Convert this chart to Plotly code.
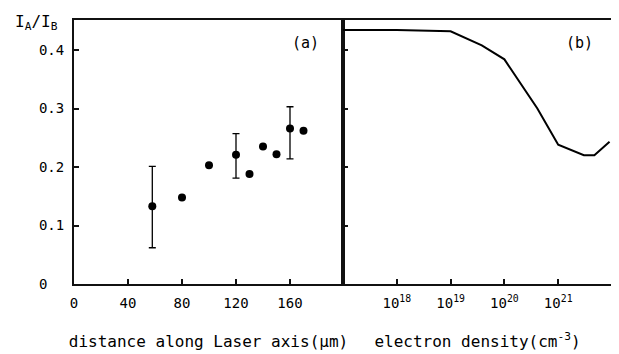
import plotly.graph_objects as go

# Panel (a): ratio vs distance along laser axis
dist_um = [58, 80, 100, 120, 130, 140, 150, 160, 170]
ratio_a = [0.133, 0.148, 0.203, 0.221, 0.188, 0.235, 0.222, 0.266, 0.262]
err_plus = [0.068, None, None, 0.036, None, None, None, 0.037, None]
err_minus = [0.071, None, None, 0.040, None, None, None, 0.052, None]

# Panel (b): ratio vs electron density
density = [1e17, 1e18, 1e19, 3.8e19, 1e20, 4.1e20, 1e21, 3.0e21, 4.7e21, 9e21]
ratio_b = [0.434, 0.434, 0.432, 0.408, 0.384, 0.300, 0.238, 0.220, 0.220, 0.243]

xa_ticks = [0, 40, 80, 120, 160]
xb_ticks = [1e18, 1e19, 1e20, 1e21]
xb_ticktext = ["10<sup>18</sup>", "10<sup>19</sup>", "10<sup>20</sup>", "10<sup>21</sup>"]
y_ticks = [0, 0.1, 0.2, 0.3, 0.4]
y_ticktext = ["0\u00a0\u00a0", "0.1", "0.2", "0.3", "0.4"]

FONT = "DejaVu Sans Mono"
OFF = 8  # page body margin offset
W, H = 619 - OFF, 354 - OFF
L, MID, R = 74 - OFF, 343 - OFF, 612 - OFF
TOP, BOT = 20 - OFF, 284 - OFF
ML, MR, MT, MB = 4, 2, 2, 4
PW, PH = W - ML - MR, H - MT - MB

fig = go.Figure()
fig.add_trace(go.Scatter(
    x=dist_um, y=ratio_a, mode="markers",
    marker=dict(color="black", size=8),
    error_y=dict(type="data", symmetric=False,
                 array=[e if e is not None else 0 for e in err_plus],
                 arrayminus=[e if e is not None else 0 for e in err_minus],
                 color="black", thickness=1.3, width=3.5),
    xaxis="x", yaxis="y", showlegend=False))
fig.add_trace(go.Scatter(
    x=density, y=ratio_b, mode="lines",
    line=dict(color="black", width=2),
    xaxis="x2", yaxis="y2", showlegend=False))

common = dict(showline=True, linecolor="#111111", linewidth=2, mirror=True,
              ticks="inside", ticklen=5, tickwidth=1.5, tickcolor="#111111",
              showgrid=False, zeroline=False, automargin=False,
              tickfont=dict(family=FONT, size=14, color="black"))

ydom = [(H - BOT - MB) / PH, (H - TOP - MB) / PH]
yrange = [0, (BOT - TOP) / 585.0]
title_font = dict(family=FONT, size=16, color="black")

fig.update_layout(
    width=W, height=H, margin=dict(l=ML, r=MR, t=MT, b=MB, autoexpand=False),
    paper_bgcolor="white", plot_bgcolor="white",
    xaxis=dict(domain=[(L - ML) / PW, (MID - ML) / PW], range=[0, (MID - L) / 1.35], anchor="y",
               tickvals=xa_ticks, ticklabelstandoff=5,
               title=dict(text="distance along Laser axis(\u03bcm)", standoff=26, font=title_font),
               **common),
    yaxis=dict(domain=ydom, range=yrange, anchor="x",
               tickvals=y_ticks, ticktext=y_ticktext, ticklabelstandoff=5, **common),
    xaxis2=dict(domain=[(MID - ML) / PW, (R - ML) / PW], type="log", range=[17, 22], anchor="y2",
                tickvals=xb_ticks, ticktext=xb_ticktext, ticklabelstandoff=5,
                title=dict(text="electron density(cm<sup>-3</sup>)", standoff=26, font=title_font),
                **common),
    yaxis2=dict(domain=ydom, range=yrange, anchor="x2",
                tickvals=y_ticks, showticklabels=False, **common),
    annotations=[
        dict(text="(a)", xref="x domain", yref="y domain", x=0.86, y=0.913,
             xanchor="center", yanchor="middle",
             showarrow=False, font=dict(family=FONT, size=15, color="black")),
        dict(text="(b)", xref="x2 domain", yref="y2 domain", x=0.881, y=0.913,
             xanchor="center", yanchor="middle",
             showarrow=False, font=dict(family=FONT, size=15, color="black")),
        dict(text="I<sub>A</sub>/I<sub>B</sub>", xref="paper", yref="paper",
             x=(13 - OFF - ML) / PW, y=(H - (23 - OFF) - MB) / PH, xanchor="left", yanchor="middle",
             showarrow=False, font=dict(family=FONT, size=16, color="black")),
    ],
)

fig.write_html("out.html")
